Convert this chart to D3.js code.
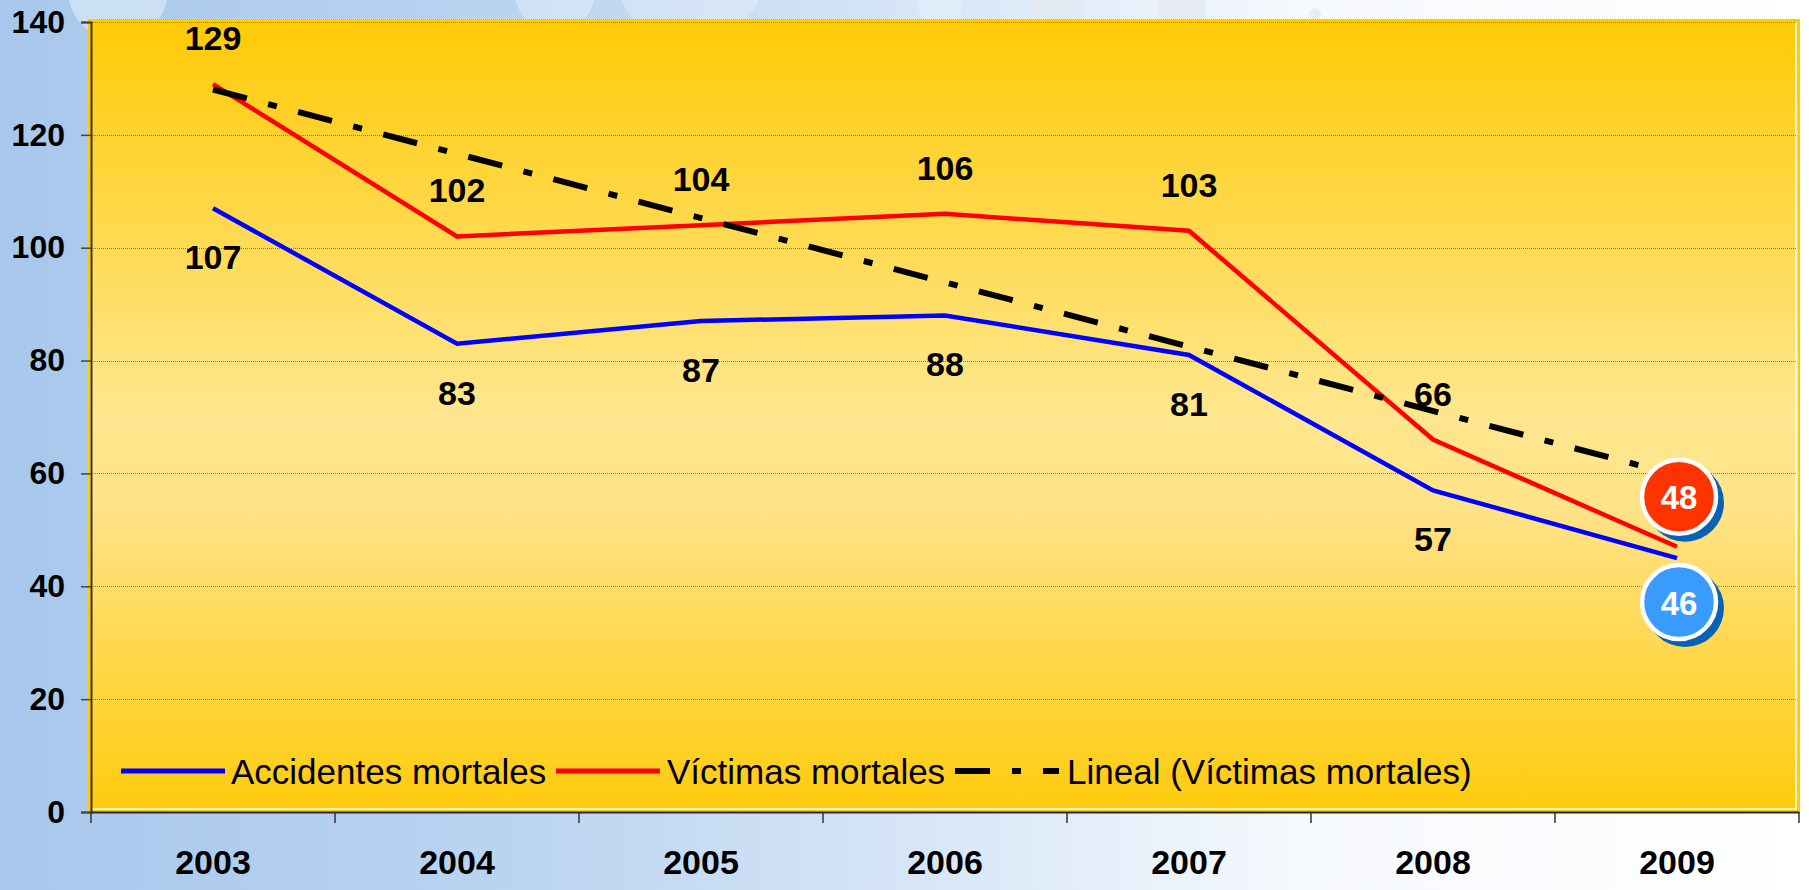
<!DOCTYPE html>
<html>
<head>
<meta charset="utf-8">
<script src="https://cdn.jsdelivr.net/npm/d3@7"></script>
<style>
  html, body { margin: 0; padding: 0; background: #ffffff; }
  svg { display: block; }
  text { font-family: "Liberation Sans", Arial, sans-serif; }
</style>
</head>
<body>
<svg id="chart" width="1809" height="890"></svg>
<script>
// ---- data ----
const years = ["2003", "2004", "2005", "2006", "2007", "2008", "2009"];
const accidentes = [107, 83, 87, 88, 81, 57, 45];
const victimas = [129, 102, 104, 106, 103, 66, 47];
const yTicks = [0, 20, 40, 60, 80, 100, 120, 140];
const badgeLabels = ["48", "46"];
const legendLabels = ["Accidentes mortales", "Víctimas mortales", "Lineal (Víctimas mortales)"];

(function () {
// ---- setup ----
const W = 1809, H = 890;
const svg = d3.select("#chart");
const pLeft = 91, pRight = 1799, pTop = 22, pBottom = 812;

const x = d3.scaleBand().domain(years).range([pLeft, pRight]);
const y = d3.scaleLinear().domain([0, 140]).range([pBottom, pTop]);
const cx = d => x(d) + x.bandwidth() / 2;

const defs = svg.append("defs");
const bg = defs.append("linearGradient").attr("id", "bg").attr("x1", 0).attr("x2", 1).attr("y1", 0).attr("y2", 0);
[[0, "#a7c7ec"], [0.3, "#bcd5f1"], [0.55, "#dde9f8"], [0.72, "#f6f9fd"], [1, "#ffffff"]]
  .forEach(([o, c]) => bg.append("stop").attr("offset", o).attr("stop-color", c));
const pg = defs.append("linearGradient").attr("id", "plotbg").attr("x1", 0).attr("x2", 0).attr("y1", 0).attr("y2", 1);
[[0, "#ffca06"], [0.5, "#ffe78f"], [0.62, "#ffe387"], [1, "#ffcb0c"]]
  .forEach(([o, c]) => pg.append("stop").attr("offset", o).attr("stop-color", c));

// background
svg.append("rect").attr("width", W).attr("height", H).attr("fill", "url(#bg)");
// faint bubbles at the top
const bubbles = [[118, -10, 50, 0.25], [555, -8, 40, 0.2], [690, -30, 75, 0.15], [940, 5, 22, 0.25],
                 [1058, 8, 26, 0.3], [1182, 10, 24, 0.35], [1315, 14, 6, 0.4]];
svg.append("g").selectAll("circle").data(bubbles).join("circle")
  .attr("cx", d => d[0]).attr("cy", d => d[1]).attr("r", d => d[2])
  .attr("fill", (d, i) => i > 3 ? "#e3e7ee" : "#e6f0fb").attr("opacity", d => d[3] + 0.3);

// plot area
svg.append("rect").attr("x", pLeft - 2).attr("y", pTop - 2).attr("width", pRight - pLeft + 2).attr("height", pBottom - pTop + 2)
  .attr("fill", "url(#plotbg)").attr("stroke", "#ffcc00").attr("stroke-width", 2);
// inner white edge right & bottom
svg.append("path").attr("d", `M${pRight - 3},${pTop} L${pRight - 3},${pBottom - 3} L${pLeft},${pBottom - 3}`)
  .attr("fill", "none").attr("stroke", "#ffffff").attr("stroke-width", 1.6);

// gridlines
svg.append("g").selectAll("line").data(yTicks.filter(v => v > 0)).join("line")
  .attr("x1", pLeft).attr("x2", pRight - 3)
  .attr("y1", d => Math.round(y(d)) + 0.5).attr("y2", d => Math.round(y(d)) + 0.5)
  .attr("stroke", "#7a6a40").attr("stroke-width", 1).attr("stroke-dasharray", "1,1").attr("opacity", 0.85);

// y axis
const yAxis = svg.append("g").attr("transform", `translate(${pLeft},0)`)
  .call(d3.axisLeft(y).tickValues(yTicks).tickSize(10).tickPadding(16));
yAxis.select(".domain").attr("stroke", "#3a3320").attr("stroke-width", 2);
yAxis.selectAll(".tick line").attr("stroke", "#444").attr("stroke-width", 1.5);
yAxis.selectAll(".tick text").attr("font-size", 32).attr("font-weight", "bold").attr("fill", "#000")
  .attr("font-family", "Liberation Sans, Arial, sans-serif");

// x axis
const xAxis = svg.append("g").attr("transform", `translate(0,${pBottom})`)
  .call(d3.axisBottom(x).tickSize(0).tickPadding(38));
xAxis.select(".domain").attr("stroke", "#2a2a2a").attr("stroke-width", 2);
xAxis.selectAll(".tick text").attr("font-size", 34).attr("font-weight", "bold").attr("fill", "#000")
  .attr("font-family", "Liberation Sans, Arial, sans-serif");
const bounds = years.map(d => x(d)).concat([pRight]);
xAxis.append("g").selectAll("line").data(bounds).join("line")
  .attr("x1", d => d).attr("x2", d => d).attr("y1", 0).attr("y2", 11)
  .attr("stroke", "#333").attr("stroke-width", 1.5);

// lines
const line = d3.line().x((d, i) => cx(years[i])).y(d => y(d));
svg.append("path").datum(accidentes).attr("d", line).attr("fill", "none")
  .attr("stroke", "#0000ff").attr("stroke-width", 4.5).attr("stroke-linejoin", "miter");
svg.append("path").datum(victimas).attr("d", line).attr("fill", "none")
  .attr("stroke", "#ff0000").attr("stroke-width", 4.5).attr("stroke-linejoin", "miter");

// data labels (not on the last year; badges there)
const lblFont = 34;
svg.append("g").selectAll("text").data(victimas.slice(0, 6)).join("text")
  .attr("x", (d, i) => cx(years[i])).attr("y", d => y(d) - 46)
  .attr("text-anchor", "middle").attr("dominant-baseline", "central")
  .attr("font-size", lblFont).attr("font-weight", "bold").text(d => d);
svg.append("g").selectAll("text").data(accidentes.slice(0, 6)).join("text")
  .attr("x", (d, i) => cx(years[i])).attr("y", d => y(d) + 49)
  .attr("text-anchor", "middle").attr("dominant-baseline", "central")
  .attr("font-size", lblFont).attr("font-weight", "bold").text(d => d);

// linear trend of victimas (least squares)
const n = victimas.length;
const xs = d3.range(n);
const mx = d3.mean(xs), my = d3.mean(victimas);
const slope = d3.sum(xs, i => (i - mx) * (victimas[i] - my)) / d3.sum(xs, i => (i - mx) * (i - mx));
const icpt = my - slope * mx;
const trend = [icpt, icpt + slope * (n - 1)];
svg.append("line")
  .attr("x1", cx(years[0])).attr("y1", y(trend[0]))
  .attr("x2", cx(years[n - 1])).attr("y2", y(trend[1]))
  .attr("stroke", "#000").attr("stroke-width", 6).attr("stroke-dasharray", "35,22,9,22");

// badges for 2009
const badges = [
  { v: victimas[6], off: -50, fill: "#ff3300", label: badgeLabels[0] },
  { v: accidentes[6], off: 44, fill: "#3a9bff", label: badgeLabels[1] }
];
const bg2 = svg.append("g").selectAll("g").data(badges).join("g")
  .attr("transform", d => `translate(${cx(years[6]) + 2},${y(d.v) + d.off})`);
bg2.append("circle").attr("cx", 6).attr("cy", 6).attr("r", 39).attr("fill", "#0a62b4");
bg2.append("circle").attr("r", 37).attr("fill", d => d.fill).attr("stroke", "#ffffff").attr("stroke-width", 4.5);
bg2.append("text").attr("text-anchor", "middle").attr("dominant-baseline", "central").attr("y", 1)
  .attr("font-size", 33).attr("font-weight", "bold").attr("fill", "#ffffff").text(d => d.label);

// legend
const legend = [
  { x: 121, color: "#0000ff", dash: null, tx: 231 },
  { x: 556, color: "#ff0000", dash: null, tx: 667 },
  { x: 955, color: "#000000", dash: "35,22,9,22", tx: 1067 }
];
const ly = 771;
const lg = svg.append("g").selectAll("g").data(legend).join("g");
lg.append("line").attr("x1", d => d.x).attr("x2", d => d.x + 104).attr("y1", ly).attr("y2", ly)
  .attr("stroke", d => d.color).attr("stroke-width", d => d.dash ? 6 : 5)
  .attr("stroke-dasharray", d => d.dash);
lg.append("text").attr("x", d => d.tx).attr("y", ly).attr("dominant-baseline", "central")
  .attr("font-size", 35).attr("fill", "#000").text((d, i) => legendLabels[i]);
})();
</script>
</body>
</html>
